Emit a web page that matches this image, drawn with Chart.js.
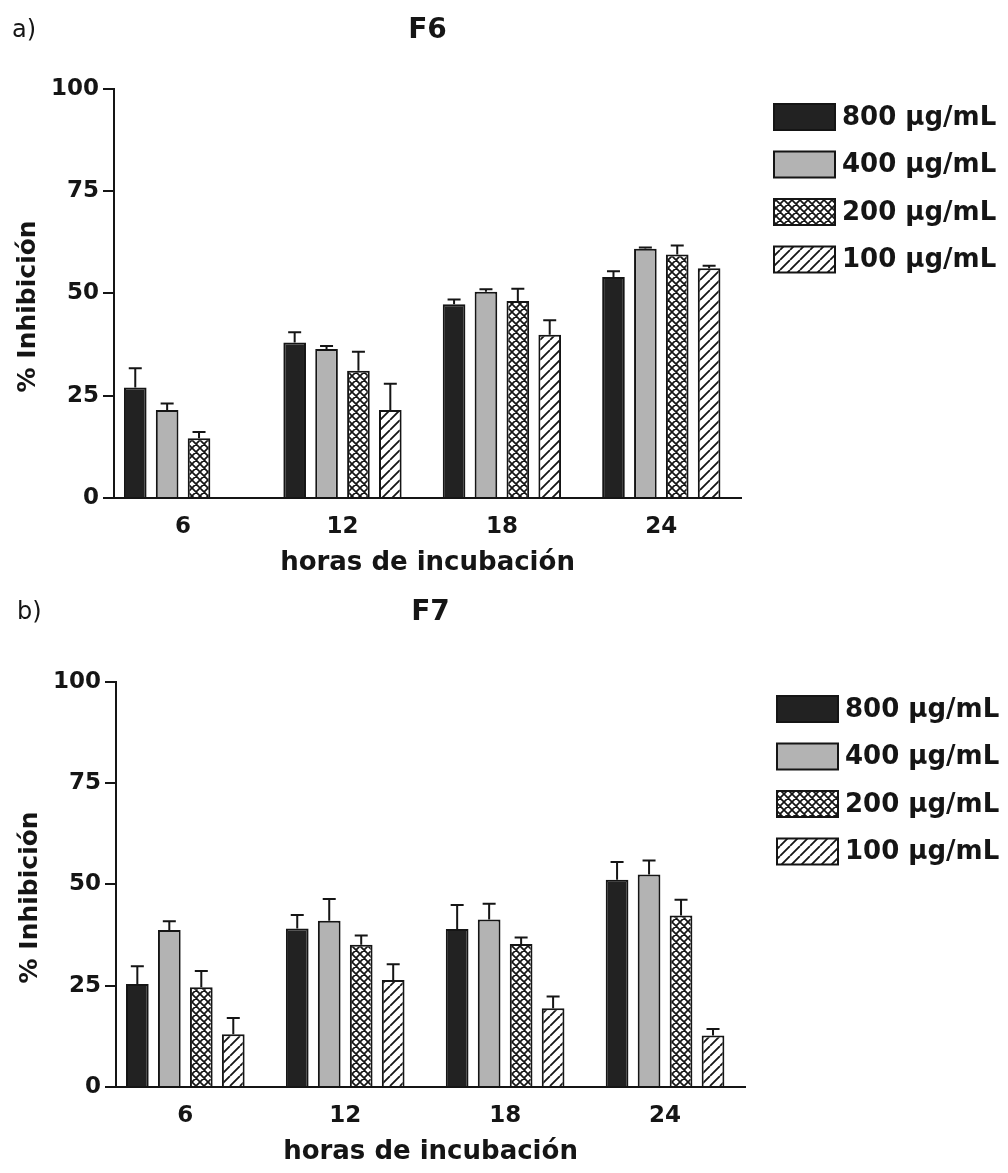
<!DOCTYPE html>
<html lang="es">
<head>
<meta charset="UTF-8">
<title>% Inhibición F6 / F7</title>
<script src="https://cdn.jsdelivr.net/npm/chart.js"></script>
<style>
  body { margin: 0; background: #fff; }
  canvas { display: block; }
</style>
</head>
<body>
<canvas id="f6" width="1008" height="586"></canvas>
<canvas id="f7" width="1008" height="587"></canvas>
<script>
// horas de incubación (x categories)
const horas = ['6', '12', '18', '24'];
const dosis = ['800 µg/mL', '400 µg/mL', '200 µg/mL', '100 µg/mL'];

// F6: mean % inhibición and upper error per dose
const f6_800 = [27.0, 38.0, 47.3, 54.0];
const f6_400 = [21.5, 36.4, 50.4, 60.9];
const f6_200 = [14.6, 31.1, 48.1, 59.5];
const f6_100 = [null, 21.5, 39.9, 56.1];
const f6_800_err = [4.7, 2.5, 1.2, 1.4];
const f6_400_err = [1.6, 0.7, 0.6, 0.3];
const f6_200_err = [1.5, 4.6, 3.0, 2.2];
const f6_100_err = [null, 6.4, 3.5, 0.6];

// F7
const f7_800 = [25.4, 39.1, 39.0, 51.1];
const f7_400 = [38.7, 41.0, 41.3, 52.4];
const f7_200 = [24.6, 35.1, 35.3, 42.3];
const f7_100 = [13.0, 26.4, 19.4, 12.7];
const f7_800_err = [4.4, 3.3, 5.9, 4.4];
const f7_400_err = [2.2, 5.4, 3.9, 3.5];
const f7_200_err = [4.0, 2.3, 1.6, 3.9];
const f7_100_err = [4.0, 3.9, 2.9, 1.6];

const yTicks = [0, 25, 50, 75, 100];

const INK = '#151515';
const BOLD = '"DejaVu Sans", sans-serif';

function hatch(cross) {
  const s = cross ? 8 : 10;
  const c = document.createElement('canvas');
  c.width = c.height = s;
  const g = c.getContext('2d');
  g.fillStyle = '#fff';
  g.fillRect(0, 0, s, s);
  g.strokeStyle = INK;
  g.lineWidth = cross ? 1.7 : 1.8;
  g.beginPath();
  for (const k of [-s, 0, s]) {
    g.moveTo(k, s); g.lineTo(k + s, 0);
    if (cross) { g.moveTo(k, 0); g.lineTo(k + s, s); }
  }
  g.stroke();
  return g.createPattern(c, 'repeat');
}

const fills = ['#222222', '#b3b3b3', hatch(true), hatch(false)];

// upward-only error bars with caps
const errorBars = {
  id: 'errorBars',
  afterDatasetsDraw(chart) {
    const { ctx } = chart;
    const y = chart.scales.y;
    ctx.save();
    ctx.strokeStyle = INK;
    ctx.lineWidth = 2;
    chart.data.datasets.forEach((ds, i) => {
      chart.getDatasetMeta(i).data.forEach((bar, j) => {
        const v = ds.data[j], e = ds.errors[j];
        if (v == null || !e) return;
        const top = y.getPixelForValue(v + e);
        ctx.beginPath();
        ctx.moveTo(bar.x, bar.y);
        ctx.lineTo(bar.x, top);
        ctx.moveTo(bar.x - 6.5, top);
        ctx.lineTo(bar.x + 6.5, top);
        ctx.stroke();
      });
    });
    ctx.restore();
  }
};

// legend on the right + panel letter
const sideLegend = {
  id: 'sideLegend',
  afterDraw(chart, args, opts) {
    const { ctx } = chart;
    ctx.save();
    chart.data.datasets.forEach((ds, i) => {
      const x = opts.left, y = opts.top + i * opts.step;
      ctx.fillStyle = ds.backgroundColor;
      ctx.fillRect(x, y, 61, 26);
      ctx.strokeStyle = INK;
      ctx.lineWidth = 2;
      ctx.strokeRect(x, y, 61, 26);
      ctx.fillStyle = INK;
      ctx.font = 'bold 26px "DejaVu Sans", sans-serif';
      ctx.textBaseline = 'middle';
      ctx.fillText(ds.label, x + 68, y + 14);
    });
    ctx.font = '24px "DejaVu Sans", sans-serif';
    ctx.textBaseline = 'middle';
    ctx.fillStyle = INK;
    ctx.fillText(opts.panel, opts.panelX, opts.panelY);
    ctx.restore();
  }
};

function makeChart(id, title, series, errors, lay) {
  new Chart(document.getElementById(id), {
    type: 'bar',
    data: {
      labels: horas,
      datasets: dosis.map((d, i) => ({
        label: d,
        data: series[i],
        errors: errors[i],
        backgroundColor: fills[i],
        borderColor: INK,
        borderWidth: 2,
        categoryPercentage: 0.8,
        barPercentage: 0.71
      }))
    },
    plugins: [errorBars, sideLegend],
    options: {
      responsive: false,
      animation: false,
      layout: { padding: { left: lay.left, right: lay.right, top: 0, bottom: lay.bottom } },
      plugins: {
        legend: { display: false },
        tooltip: { enabled: false },
        title: {
          display: true,
          text: title,
          fullSize: false,
          color: INK,
          font: { family: BOLD, size: 28, weight: 'bold' },
          padding: { top: lay.titleTop, bottom: lay.titleBottom }
        },
        sideLegend: lay.legend
      },
      scales: {
        x: {
          type: 'linear',
          offset: false,
          min: 3.4,
          max: 27,
          afterBuildTicks: (s) => { s.ticks = horas.map(h => ({ value: +h })); },
          grid: { display: true, offset: false, drawOnChartArea: false, drawTicks: false },
          border: { display: true, color: INK, width: 2 },
          ticks: {
            padding: lay.xPad,
            color: INK,
            font: { family: BOLD, size: 23, weight: 'bold', lineHeight: 1 },
            callback: (v) => String(v)
          },
          title: {
            display: true,
            text: 'horas de incubación',
            color: INK,
            font: { family: BOLD, size: 26, weight: 'bold', lineHeight: 1 },
            padding: { top: lay.xTitlePad, bottom: 0 }
          }
        },
        y: {
          min: 0,
          max: 100,
          afterBuildTicks: (s) => { s.ticks = yTicks.map(v => ({ value: v })); },
          grid: { display: true, drawOnChartArea: false, drawTicks: true, tickLength: 11, color: INK, lineWidth: 2 },
          border: { display: true, color: INK, width: 2 },
          ticks: {
            padding: 4,
            color: INK,
            font: { family: BOLD, size: 23, weight: 'bold' }
          },
          title: {
            display: true,
            // trailing spaces push the rotated title slightly down, as in the original
            text: '% Inhibición   ',
            color: INK,
            font: { family: BOLD, size: 25, weight: 'bold' },
            padding: { top: 0, bottom: 4 }
          }
        }
      }
    }
  });
}

makeChart('f6', 'F6',
  [f6_800, f6_400, f6_200, f6_100],
  [f6_800_err, f6_400_err, f6_200_err, f6_100_err],
  { left: 13, right: 267, bottom: 10, titleTop: 14, titleBottom: 41, xPad: 17.5, xTitlePad: -6,
    legend: { left: 774, top: 104, step: 47.5, panel: 'a)', panelX: 12, panelY: 31 } });

makeChart('f7', 'F7',
  [f7_800, f7_400, f7_200, f7_100],
  [f7_800_err, f7_400_err, f7_200_err, f7_100_err],
  { left: 15, right: 263, bottom: 8, titleTop: 10, titleBottom: 52, xPad: 17.5, xTitlePad: -6,
    legend: { left: 777, top: 110, step: 47.5, panel: 'b)', panelX: 17, panelY: 27 } });
</script>
</body>
</html>
